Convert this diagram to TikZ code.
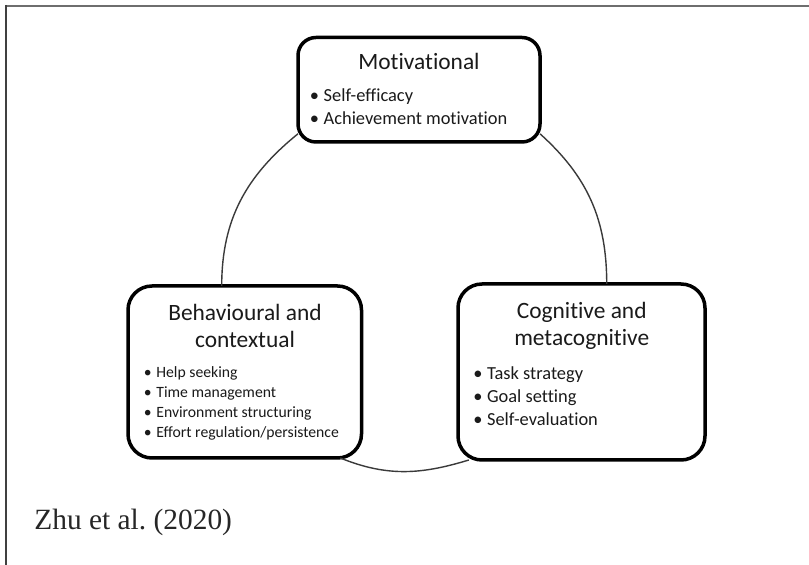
\documentclass[tikz,border=0pt]{standalone}
\usepackage{fontspec}
\setmainfont{Carlito}[Ligatures=NoCommon]
\newfontfamily\refserif{Liberation Serif}
\definecolor{ink}{HTML}{1A1A1A}
\definecolor{framegray}{HTML}{6E6E6E}
\definecolor{arcgray}{HTML}{3A3A3A}
\newcommand{\bul}{\llap{\textbullet\hspace{2.3pt}}}

\tikzset{
  phase/.style={draw=black, line width=1.75pt, rounded corners=12pt, fill=white,
    inner sep=0pt, outer sep=0pt},
  title/.style={anchor=base, inner sep=0pt, text=ink, font=\fontsize{11.7}{13}\selectfont},
  item/.style={anchor=base west, inner sep=0pt, text=ink, font=\fontsize{9.2}{11}\selectfont},
  smallitem/.style={item, font=\fontsize{7.85}{9}\selectfont},
  link/.style={draw=arcgray, line width=0.7pt},
}

\begin{document}
\begin{tikzpicture}
    \pgfsetxvec{\pgfpoint{0.5pt}{0}}
    \pgfsetyvec{\pgfpoint{0}{-0.5pt}}
    \useasboundingbox (0,0) rectangle (809,565);

    % frame
    \draw[framegray, line width=1pt] (5,6) -- (809,6);
    \draw[black!75, line width=1pt] (6,5) -- (6,565);

    % the three boxes
    \node[phase, rounded corners=9pt, minimum width=121pt, minimum height=52.25pt] (mot) at (419,89.75) {};
    \node[phase, minimum width=116.75pt, minimum height=86pt] (beh) at (244.75,372) {};
    \node[phase, minimum width=123.5pt, minimum height=88pt] (cog) at (581.5,372) {};

    % cycle
    \draw[link] (mot.200) to[out=219, in=90] (beh.105);
    \draw[link] (mot.340) to[out=-42, in=90] (cog.74);
    \draw[link] (beh.318) to[out=-22, in=197] (cog.218);

    % Motivational
    \node[title] (motT) at (419,69.5) {Motivational};
    \foreach \t/\y [count=\i] in {Self-efficacy/101.7, Achievement motivation/124.5} {
      \node[item] (motI\i) at (323.3,\y) {\bul\t};
    }

    % Behavioural and contextual
    \node[title] (behT1) at (245,321) {Behavioural and};
    \node[title] (behT2) at (245,347.3) {contextual};
    \foreach \t/\y [count=\i] in {Help seeking/377.3, Time management/397.7,
        Environment structuring/417.7, {Effort regulation/persistence}/437.7} {
      \node[smallitem] (behI\i) at (156,\y) {\bul\t};
    }

    % Cognitive and metacognitive
    \node[title] (cogT1) at (581.7,319) {Cognitive and};
    \node[title] (cogT2) at (581.7,345.5) {metacognitive};
    \foreach \t/\y [count=\i] in {Task strategy/379.5, Goal setting/402.7, Self-evaluation/425.5} {
      \node[item] (cogI\i) at (486.7,\y) {\bul\t};
    }

    \node[anchor=base west, inner sep=0pt, text=black!85, font=\refserif\fontsize{14.7}{16}\selectfont] (src) at (34,529.3) {Zhu et al.\ (2020)};
\end{tikzpicture}
\end{document}
